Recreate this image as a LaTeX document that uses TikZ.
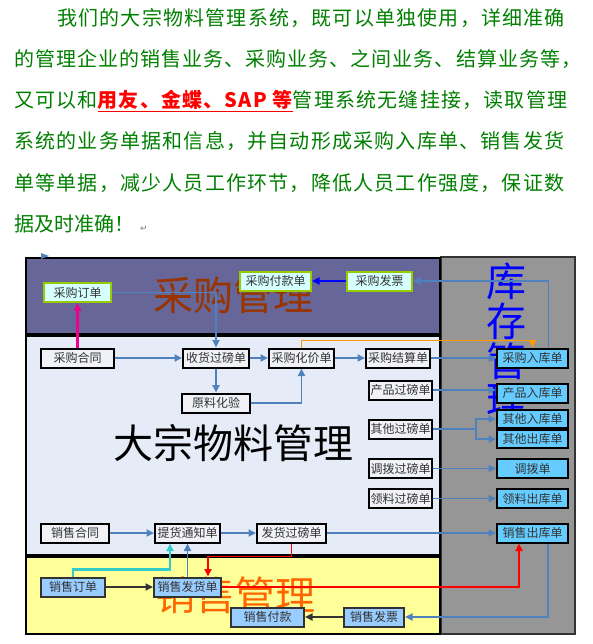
\documentclass[tikz,border=0pt]{standalone}
\usepackage{fontspec}
\setmainfont{Noto Sans CJK SC}
\newfontfamily\symfont{DejaVu Sans}
\usetikzlibrary{arrows.meta}
\definecolor{txtgreen}{RGB}{0,128,0}
\definecolor{linkblue}{RGB}{79,129,189}
\definecolor{purplebg}{RGB}{102,102,153}
\definecolor{midbg}{RGB}{230,236,247}
\definecolor{yellowbg}{RGB}{255,255,153}
\definecolor{graybg}{RGB}{150,150,150}
\definecolor{pfill}{RGB}{214,255,255}
\definecolor{pborder}{RGB}{153,204,0}
\definecolor{mfill}{RGB}{240,242,248}
\definecolor{ifill}{RGB}{102,204,255}
\definecolor{sfill}{RGB}{153,204,255}
\definecolor{sborder}{RGB}{51,51,51}
\definecolor{boxtext}{RGB}{51,51,51}
\definecolor{titlebrown}{RGB}{153,51,0}
\definecolor{titleorange}{RGB}{255,102,0}
\definecolor{orangeline}{RGB}{255,153,0}
\definecolor{cyanline}{RGB}{51,204,204}
\begin{document}
\begin{tikzpicture}[x=1pt,y=-1pt,
  para/.style={anchor=base west, inner sep=0pt, text=txtgreen,
    font=\fontsize{20}{24}\selectfont\addfontfeature{LetterSpace=6}},
  paratight/.style={anchor=base west, inner sep=0pt, text=txtgreen,
    font=\fontsize{20}{24}\selectfont\addfontfeature{LetterSpace=5.2}},
  paraplain/.style={anchor=base west, inner sep=0pt, text=txtgreen,
    font=\fontsize{20}{24}\selectfont},
  bigtitle/.style={inner sep=0pt, font=\fontsize{40}{40}\selectfont},
  box/.style={minimum height=19pt, inner sep=0pt, text=boxtext,
    font=\fontsize{12}{14}\selectfont},
  pbox/.style={box, fill=pfill, draw=pborder, line width=2pt},
  mbox/.style={box, fill=mfill, draw=black, line width=2pt},
  ibox/.style={box, fill=ifill, draw=black, line width=2pt},
  sbox/.style={box, fill=sfill, draw=sborder, line width=2pt},
  conn/.style={line width=1.8pt, -{Triangle[length=7.5pt,width=7pt]}},
  bl/.style={conn, draw=linkblue},
  pbl/.style={conn, draw=blue},
  mag/.style={conn, draw=magenta, line width=2.2pt},
  org/.style={conn, draw=orangeline},
  rd/.style={conn, draw=red},
  cy/.style={conn, draw=cyanline, line width=2.2pt},
  dk/.style={conn, draw=sborder},
  panel/.style={line width=2pt, draw=black}
]
\useasboundingbox (0,0) rectangle (593,644);
\fill[white] (0,0) rectangle (593,644);

% ---------- paragraph ----------
\node[para] (t1) at (57,25.5) {我们的大宗物料管理系统，既可以单独使用，详细准确};
\node[paratight] (t2) at (14,66.5) {的管理企业的销售业务、采购业务、之间业务、结算业务等，};
\node[para] (t3) at (14,107.5) {又可以和{\color{red}\bfseries\underline{用友、金蝶、SAP 等}}管理系统无缝挂接，读取管理};
\node[para] (t4) at (14,148.5) {系统的业务单据和信息，并自动形成采购入库单、销售发货};
\node[para] (t5) at (14,190.5) {单等单据，减少人员工作环节，降低人员工作强度，保证数};
\node[paraplain] (t6) at (14,231.5) {据及时准确！};
\node[inner sep=0pt, text=gray, font=\symfont\fontsize{9}{10}\selectfont] (ret) at (144,229) {↵};

% ---------- panels ----------
\filldraw[fill=graybg, draw=sborder, line width=1.5pt] (441,257) rectangle (575,634);
\filldraw[panel, fill=purplebg] (26,258) rectangle (440,334);
\filldraw[panel, fill=midbg] (26,336) rectangle (440,555);
\filldraw[panel, fill=yellowbg] (26,557) rectangle (440,634);
\fill[linkblue] (41,253) -- (49,256) -- (41,259) -- cycle;

% ---------- big titles ----------
\node[bigtitle, text=titlebrown] (tcg) at (233,295) {采购管理};
\node[bigtitle, text=black] (tdz) at (233,443) {大宗物料管理};
\node[bigtitle, text=titleorange] (txs) at (235,595) {销售管理};
\node[bigtitle, text=blue] (tk1) at (506,281) {库};
\node[bigtitle, text=blue] (tk2) at (506,321) {存};
\node[bigtitle, text=blue] (tk3) at (506,361) {管};
\node[bigtitle, text=blue] (tk4) at (506,401) {理};

% ---------- boxes ----------
\node[pbox, minimum width=67pt] (cgdd) at (77.5,292.5) {采购订单};
\node[pbox, minimum width=71pt] (cgfk) at (275.5,281) {采购付款单};
\node[pbox, minimum width=65pt] (cgfp) at (379.5,281) {采购发票};

\node[mbox, minimum width=73pt] (cght) at (77.5,358) {采购合同};
\node[mbox, minimum width=66pt] (shgb) at (216,358) {收货过磅单};
\node[mbox, minimum width=65pt] (cghj) at (301.5,358) {采购化价单};
\node[mbox, minimum width=64pt] (cgjs) at (398,358) {采购结算单};
\node[mbox, minimum width=68pt] (ylhy) at (216,403) {原料化验};
\node[mbox, minimum width=63pt] (cpgb) at (400.5,390) {产品过磅单};
\node[mbox, minimum width=63pt] (qtgb) at (400.5,429) {其他过磅单};
\node[mbox, minimum width=63pt] (dbgb) at (400.5,468.5) {调拨过磅单};
\node[mbox, minimum width=63pt] (llgb) at (400.5,498.5) {领料过磅单};
\node[mbox, minimum width=68pt] (xsht) at (75,533) {销售合同};
\node[mbox, minimum width=65pt] (thtz) at (187.5,533) {提货通知单};
\node[mbox, minimum width=69pt] (fhgb) at (291.5,533) {发货过磅单};

\node[ibox, minimum width=71pt] (cgrk) at (532.5,358) {采购入库单};
\node[ibox, minimum width=71pt] (cprk) at (532.5,393) {产品入库单};
\node[ibox, minimum width=71pt, minimum height=18pt] (qtrk) at (532.5,419) {其他入库单};
\node[ibox, minimum width=71pt, minimum height=18pt] (qtck) at (532.5,439) {其他出库单};
\node[ibox, minimum width=71pt] (dbd) at (532.5,468.5) {调拨单};
\node[ibox, minimum width=71pt] (llck) at (532.5,498.5) {领料出库单};
\node[ibox, minimum width=71pt] (xsck) at (532.5,533) {销售出库单};

\node[sbox, minimum width=64pt] (xsdd) at (73,587) {销售订单};
\node[sbox, minimum width=67pt] (xsfh) at (187.5,587) {销售发货单};
\node[sbox, minimum width=73pt] (xsfk) at (267.5,617) {销售付款};
\node[sbox, minimum width=60pt] (xsfp) at (374,617) {销售发票};

% ---------- connectors ----------
\draw[bl] (cgdd.east) -| (shgb.north);
\draw[mag] (cght.north) -- (cgdd.south);
\draw[bl] (cght.east) -- (shgb.west);
\draw[bl] (shgb.east) -- (cghj.west);
\draw[bl] (shgb.south) -- (ylhy.north);
\draw[bl] (ylhy.east) -| (cghj.south);
\draw[bl] (cghj.east) -- (cgjs.west);
\draw[bl] (cgjs.east) -- (cgrk.west);
\draw[org] (cghj.north) -- ++(0,-7) -| (cgrk.north);
\draw[bl] ([xshift=16pt]cgrk.north) |- (cgfp.east);
\draw[pbl] (cgfp.west) -- (cgfk.east);
\draw[bl] (cpgb.east) -- (cpgb.east -| cprk.west);
\coordinate (split) at (476,429);
\draw[line width=1.8pt, draw=linkblue] (qtgb.east) -- (split);
\draw[bl] (split) |- (qtrk.west);
\draw[bl] (split) |- (qtck.west);
\draw[bl] (dbgb.east) -- (dbd.west);
\draw[bl] (llgb.east) -- (llck.west);
\draw[bl] (xsht.east) -- (thtz.west);
\draw[bl] (thtz.east) -- (fhgb.west);
\draw[bl] (fhgb.east) -- (xsck.west);
\draw[rd] (fhgb.south) -- ++(0,13) -| ([xshift=20.5pt]xsfh.north);
\draw[rd] (xsfh.east) -| ([xshift=-13.5pt]xsck.south);
\draw[cy] (xsdd.north) -- ++(0,-7) -| ([xshift=-17.5pt]thtz.south);
\draw[bl] (xsfh.north) -- (thtz.south);
\draw[dk] (xsdd.east) -- (xsfh.west);
\draw[bl] ([xshift=15.5pt]xsck.south) |- (xsfp.east);
\draw[dk] (xsfp.west) -- (xsfk.east);
\end{tikzpicture}
\end{document}
